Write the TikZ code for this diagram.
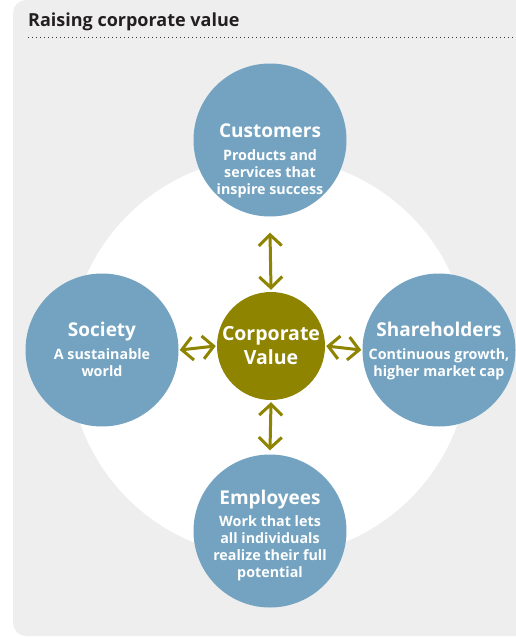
\documentclass[tikz,border=0pt]{standalone}
\usepackage{fontspec}
\setmainfont{Open Sans}
\usetikzlibrary{arrows.meta}
\definecolor{panelgray}{HTML}{EEEEEE}
\definecolor{bluecirc}{HTML}{73A3C1}
\definecolor{olive}{HTML}{8E8400}
\definecolor{titlegray}{HTML}{231F20}
\begin{document}
\begin{tikzpicture}[x=1pt,y=-1pt,
  outer/.style={circle,fill=bluecirc,minimum size=153pt,inner sep=0pt},
  core/.style={circle,fill=olive,minimum size=108pt,inner sep=0pt},
  head/.style={font=\bfseries\fontsize{19}{22}\selectfont,text=white},
  sub/.style={font=\bfseries\fontsize{14.3}{17}\selectfont,text=white,align=center},
  link/.style={draw=olive,line width=3pt,{Straight Barb[length=11pt,width=23pt]}-{Straight Barb[length=11pt,width=23pt]}}]
\useasboundingbox (0,0) rectangle (515,637);
\fill[panelgray,rounded corners=13pt] (13,0) rectangle (540,636);
\node[anchor=base west,font=\bfseries\fontsize{18}{20}\selectfont,text=titlegray,inner sep=0pt] (title) at (28,27) {Raising corporate value};
\coordinate (dl) at (28,37);
\coordinate (dr) at (515,37);
\draw[line width=1pt,dash pattern=on 1pt off 3pt,black!80] (dl) -- (dr);
\fill[white] (269,357) circle (200);
\node[outer] (cust) at (270,140) {};
\node[outer] (soc) at (102,350) {};
\node[outer] (share) at (439,350) {};
\node[outer] (emp) at (270,531) {};
\node[core] (core) at (271,346) {};
\node[font=\bfseries\fontsize{19.5}{24}\selectfont,text=white,align=center] at (core) {Corporate\\Value};
\node[head,anchor=base] at (270,137) {Customers};
\node[sub,anchor=north] at (270,146) {Products and\\services that\\inspire success};
\node[head,anchor=base] at (102,336) {Society};
\node[sub,anchor=north] at (102,345) {A sustainable\\world};
\node[head,anchor=base] at (439,336) {Shareholders};
\node[sub,anchor=north] at (439,345) {Continuous growth,\\higher market cap};
\node[head,anchor=base] at (270,504) {Employees};
\node[sub,anchor=north] at (270,512) {Work that lets\\all individuals\\realize their full\\potential};
\draw[link] ([yshift=-16pt]cust.south) -- ([yshift=2pt]core.north);
\draw[link] ([yshift=-2pt]core.south) -- ([yshift=4pt]emp.north);
\draw[link] ([xshift=1pt]soc.east) -- ([xshift=-1pt]core.west);
\draw[link] ([xshift=1pt]core.east) -- ([xshift=-1pt]share.west);
\end{tikzpicture}
\end{document}
